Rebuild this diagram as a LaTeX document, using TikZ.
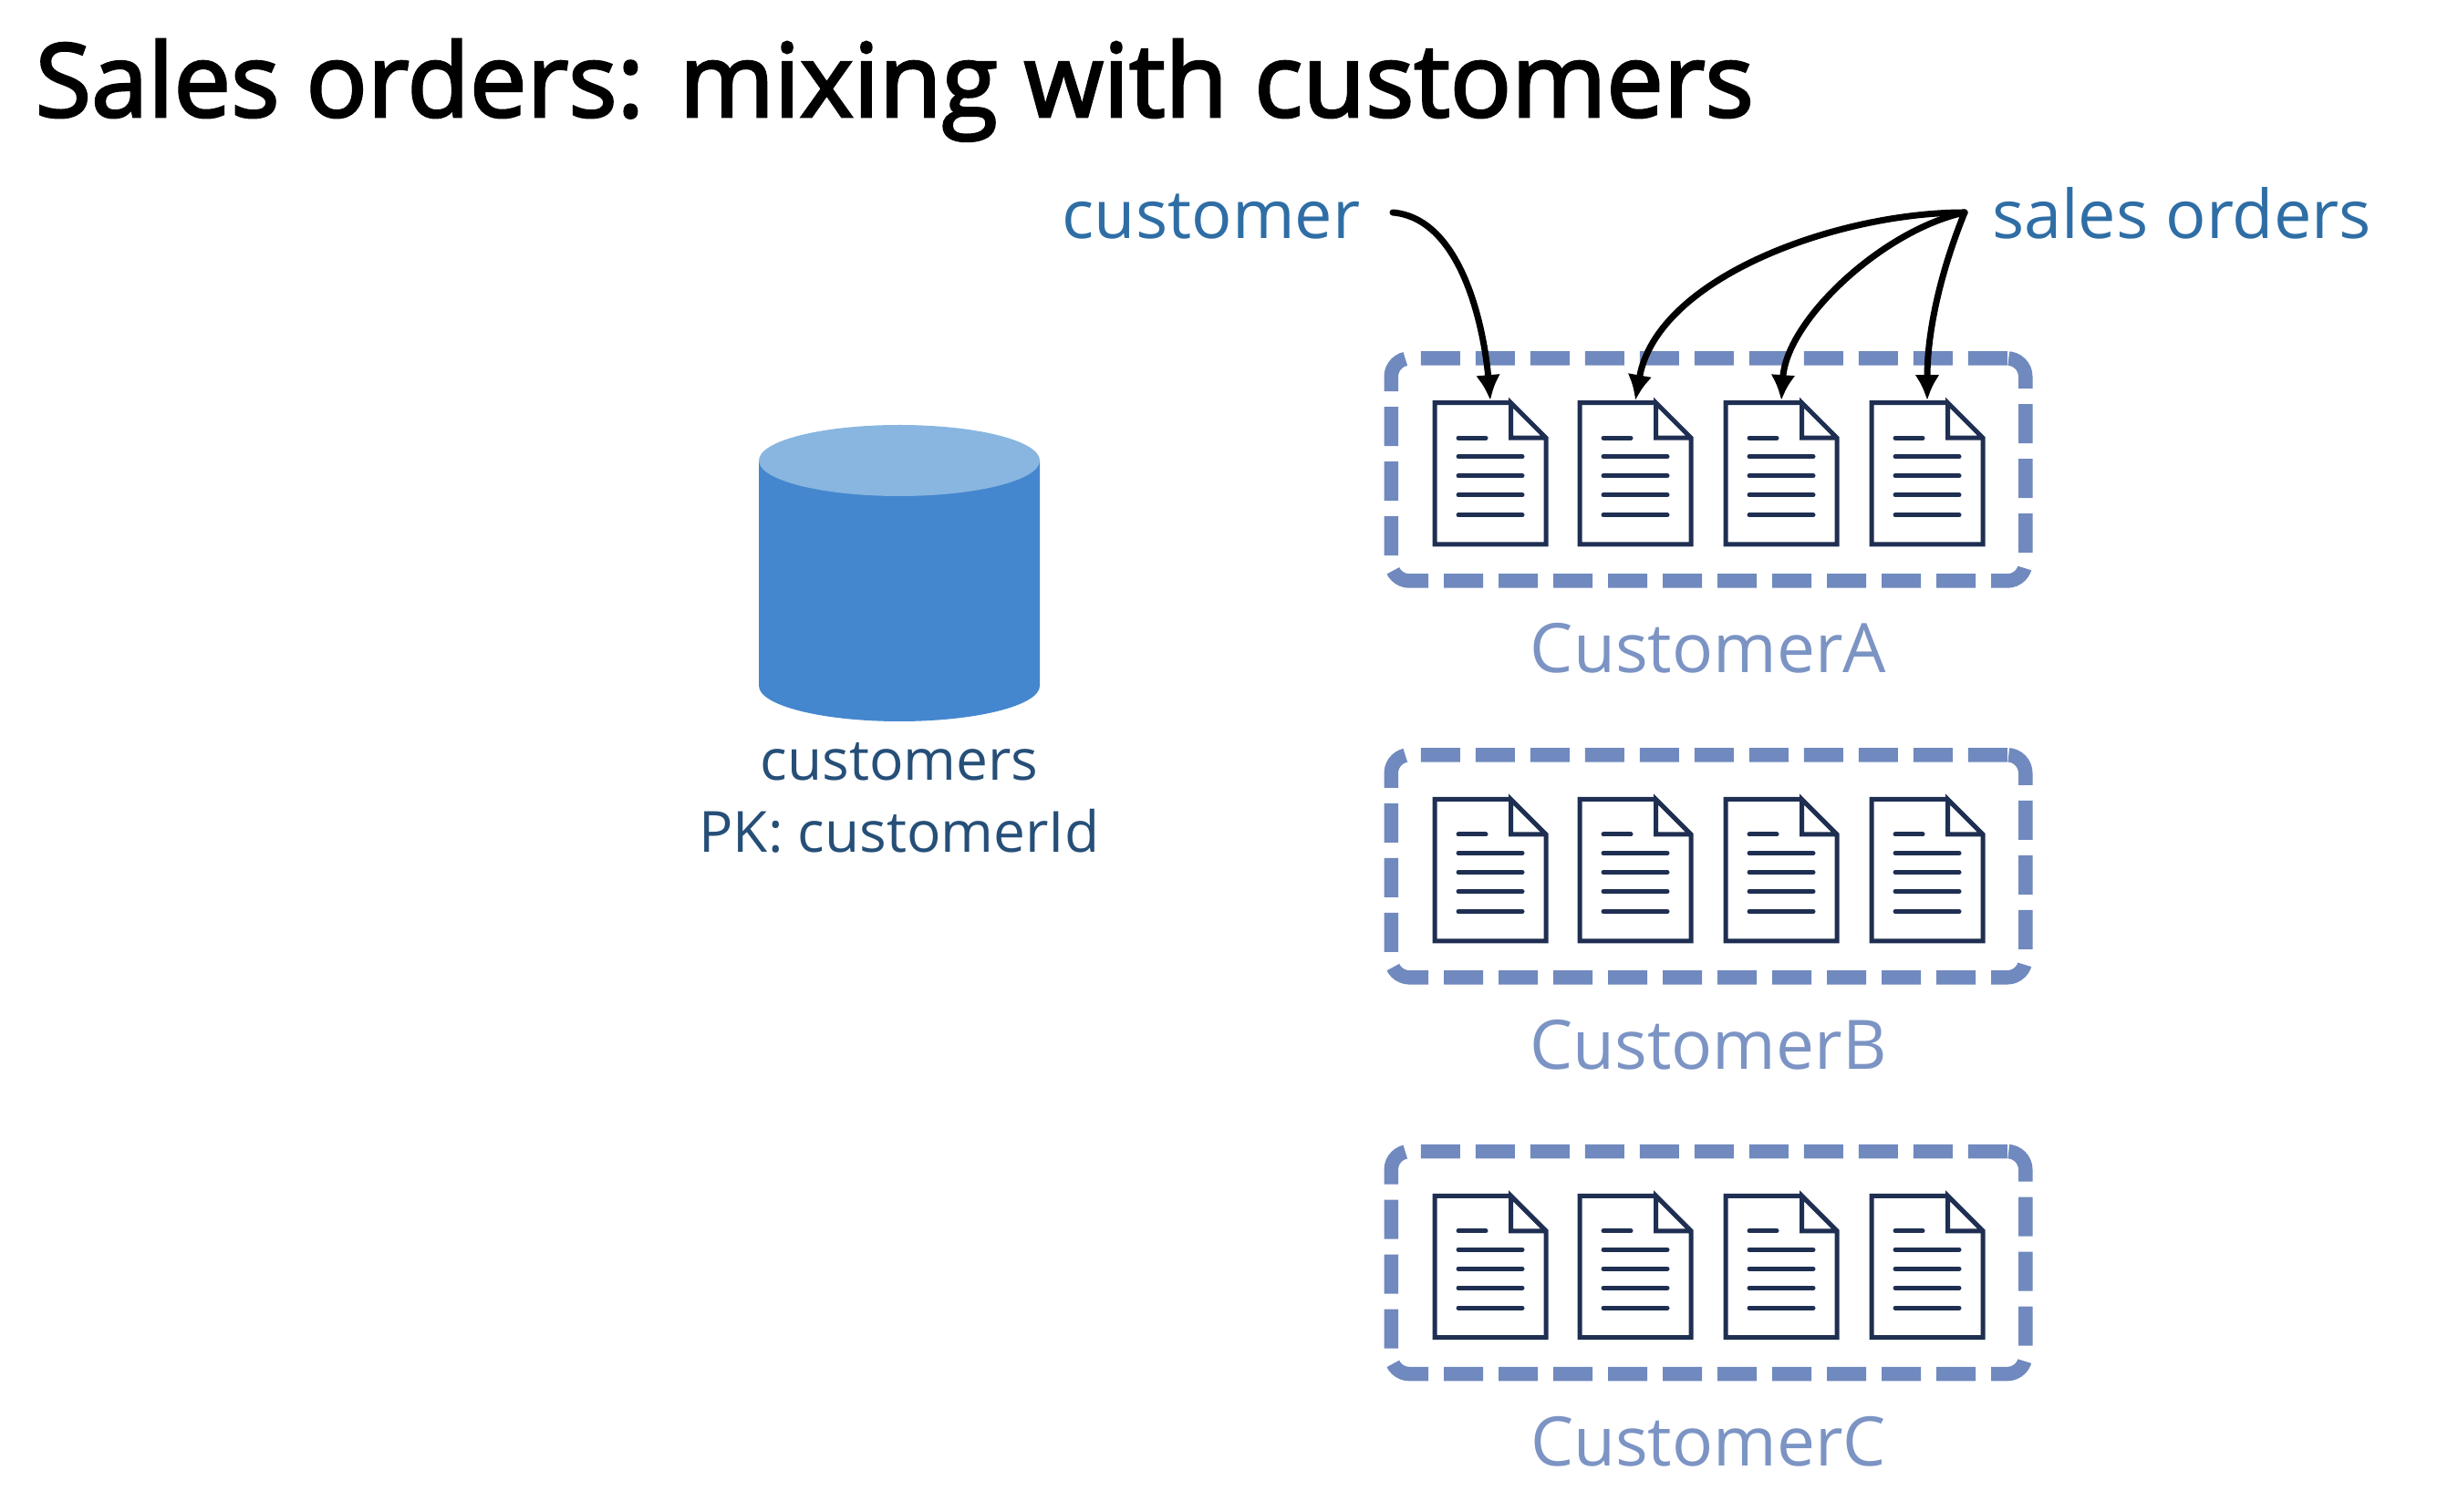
\documentclass[tikz,border=0pt]{standalone}
\usepackage{fontspec}
\setmainfont{Open Sans}
\newfontfamily\titlefont[FakeBold=2.5]{Open Sans}
\usetikzlibrary{arrows.meta}

\definecolor{labelblue}{HTML}{2F6EA5}
\definecolor{dbtext}{HTML}{264F78}
\definecolor{custblue}{HTML}{7C94C4}
\definecolor{boxblue}{HTML}{7089BE}
\definecolor{docnavy}{HTML}{1F2F52}
\definecolor{dbbody}{HTML}{4587CE}
\definecolor{dbtop}{HTML}{88B6E0}

\tikzset{
  titletext/.style={anchor=base west,inner sep=0,font=\titlefont\fontsize{31.8}{36}\selectfont},
  bluetext/.style={anchor=base,inner sep=0,text=labelblue,font=\fontsize{21}{25}\selectfont},
  dbtext/.style={anchor=base,inner sep=0,text=dbtext,font=\fontsize{17.7}{21}\selectfont},
  custtext/.style={anchor=base,inner sep=0,text=custblue,font=\fontsize{21.3}{25}\selectfont},
  custbox/.style={draw=boxblue,line width=.155cm,dash pattern=on .43cm off .17cm,rounded corners=.2cm,
    minimum width=6.955cm,minimum height=2.44cm,inner sep=0,outer sep=0},
  pointer/.style={line width=.07cm,line cap=round,-{Latex[length=.28cm,width=.27cm]}},
  docicon/.pic={
    \coordinate (-top) at (.61,.025);
    \draw [docnavy,line width=.05cm,line join=miter] (.835,0) -- (0,0) -- (0,-1.553) -- (1.22,-1.553) -- (1.22,-.385) -- (.835,0) -- (.835,-.385) -- (1.22,-.385);
    \draw [docnavy,line width=.05cm,line cap=round] (.26,-.385) -- (.56,-.385);
    \foreach \liney in {-.59,-.80,-1.01,-1.23}
      \draw [docnavy,line width=.05cm,line cap=round] (.26,\liney) -- (.96,\liney);
  }
}

\begin{document}
\begin{tikzpicture}
\useasboundingbox (0,0) rectangle (26.84,-16.58);

\node [titletext] (title) at (.38,-1.28) {Sales orders: mixing with customers};

% left side
\fill [dbbody] (8.32,-5.05) -- (8.32,-7.52) arc [start angle=180,end angle=360,x radius=1.54,y radius=.39] -- (11.40,-5.05) -- cycle;
\fill [dbtop] (9.86,-5.05) ellipse [x radius=1.54,y radius=.39];
\node [dbtext] (customersname) at (9.86,-8.56) {customers};
\node [dbtext] (customerskey) at (9.86,-9.35) {PK: customerId};

% three customers with four documents each
\foreach \row/\rowy in {A/0,B/-4.348,C/-8.696} {
  \node [custbox] (box\row) at (18.73,-5.15+\rowy) {};
  \node [custtext] (name\row) at (18.73,-7.38+\rowy) {Customer\row};
  \foreach \col/\colx in {1/15.73,2/17.32,3/18.92,4/20.52}
    \pic (doc\row\col) at (\colx,-4.417+\rowy) {docicon};
}

% labels and pointers
\node [bluetext] (customerlabel) at (13.28,-2.62) {customer};
\node [bluetext] (saleslabel) at (23.92,-2.62) {sales orders};
\coordinate (customerstart) at (15.27,-2.33);
\coordinate (salesstart) at (21.54,-2.33);

\draw [pointer] (customerstart) to [out=-5,in=95,looseness=.85] (docA1-top);
\draw [pointer] (salesstart) to [out=180,in=80,looseness=.85] (docA2-top);
\draw [pointer] (salesstart) to [out=192,in=86,looseness=.8] (docA3-top);
\draw [pointer] (salesstart) to [out=248,in=90,looseness=.9] (docA4-top);
\end{tikzpicture}
\end{document}
